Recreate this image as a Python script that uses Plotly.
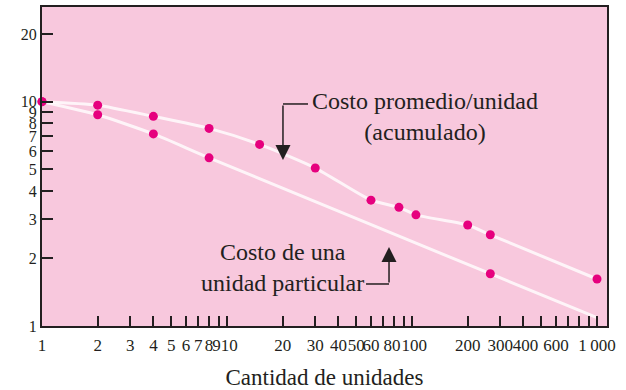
import plotly.graph_objects as go

# ---- data ----
avg_x = [1, 2, 4, 8, 15, 30, 60, 85, 105, 200, 265, 1000]
avg_y = [10, 9.65, 8.6, 7.6, 6.45, 5.06, 3.64, 3.38, 3.13, 2.82, 2.55, 1.62]
unit_x = [1, 2, 4, 8, 265]
unit_y = [10, 8.74, 7.18, 5.62, 1.71]
unit_end_x = [1000]
unit_end_y = [1.09]

NB = "\u00a0"
x_tickvals = [1, 2, 3, 4, 5, 6, 7, 8, 9, 10, 20, 30, 40, 50, 60, 70, 80, 90,
              100, 200, 300, 400, 500, 600, 700, 800, 900, 1000]
x_ticktext = ["1", "2", "3", "4", "5", "6", "7", "8", "9" + NB, NB + "10", "20", "30", "40",
              "50", "60", "", "80" + NB, "", NB + "100", "200", "300", NB + "400", "", "600",
              "", "", "", "1\u2009000"]
y_tickvals = [1, 2, 3, 4, 5, 6, 7, 8, 9, 10, 20]
y_ticktext = ["1", "2", "3", "4", "5", "6", "7", "8", "9", "10", "20"]

INK = "#231F20"
PINK = "#F8C8DD"
DOT = "#E6007E"
LINE = "rgba(255,255,255,0.8)"

fig = go.Figure()
fig.add_trace(go.Scatter(x=avg_x, y=avg_y, mode="lines",
                         line=dict(color=LINE, width=3, shape="spline", smoothing=0.6),
                         hoverinfo="skip"))
fig.add_trace(go.Scatter(x=unit_x + unit_end_x, y=unit_y + unit_end_y, mode="lines",
                         line=dict(color=LINE, width=3, shape="spline", smoothing=0.6),
                         hoverinfo="skip"))
fig.add_trace(go.Scatter(x=avg_x, y=avg_y, mode="markers", cliponaxis=False,
                         marker=dict(color=DOT, size=9)))
fig.add_trace(go.Scatter(x=unit_x, y=unit_y, mode="markers", cliponaxis=False,
                         marker=dict(color=DOT, size=9)))

fig.update_layout(
    width=626, height=390,
    margin=dict(l=42, r=19, t=7, b=64),
    paper_bgcolor="white", plot_bgcolor=PINK,
    showlegend=False,
    font=dict(family="Liberation Serif", color=INK),
)
fig.update_xaxes(
    type="log", range=[0, 3.054], automargin=False,
    tickvals=x_tickvals, ticktext=x_ticktext, tickangle=0,
    ticks="inside", ticklen=10, tickwidth=1.5, tickcolor=INK,
    tickfont=dict(size=17, color=INK), ticklabelstandoff=3,
    showline=True, linecolor=INK, linewidth=2, mirror=True,
    showgrid=False, zeroline=False,
    title=dict(text="Cantidad de unidades", font=dict(size=23, color=INK), standoff=14),
)
fig.update_yaxes(
    type="log", range=[0, 1.422], automargin=False,
    tickvals=y_tickvals, ticktext=y_ticktext,
    ticks="inside", ticklen=11, tickwidth=1.5, tickcolor=INK,
    tickfont=dict(size=16, color=INK),
    showline=True, linecolor=INK, linewidth=2, mirror=True,
    showgrid=False, zeroline=False,
)

# labels
fig.add_annotation(xref="paper", yref="paper", x=0.678, y=0.658,
                   text="Costo promedio/unidad<br>(acumulado)", showarrow=False,
                   xanchor="center", yanchor="middle", font=dict(size=24, color=INK))
fig.add_annotation(xref="paper", yref="paper", x=0.4257, y=0.182,
                   text="Costo de una<br>unidad particular", showarrow=False,
                   xanchor="center", yanchor="middle", font=dict(size=24, color=INK))

# bent arrows
fig.add_shape(type="line", xref="paper", yref="paper", x0=0.4265, x1=0.4708,
              y0=0.696, y1=0.696, line=dict(color=INK, width=1.5))
fig.add_annotation(xref="paper", yref="paper", x=0.4265, y=0.520, text="",
                   showarrow=True, ax=0, ay=-56, arrowhead=2, arrowsize=2,
                   arrowwidth=1.5, arrowcolor=INK)
fig.add_shape(type="line", xref="paper", yref="paper", x0=0.5735, x1=0.6142,
              y0=0.1317, y1=0.1317, line=dict(color=INK, width=1.5))
fig.add_annotation(xref="paper", yref="paper", x=0.6142, y=0.2476, text="",
                   showarrow=True, ax=0, ay=37, arrowhead=2, arrowsize=2,
                   arrowwidth=1.5, arrowcolor=INK)

fig.write_html("out.html", config={"displayModeBar": False},
               post_script="document.body.style.margin='0px';")
